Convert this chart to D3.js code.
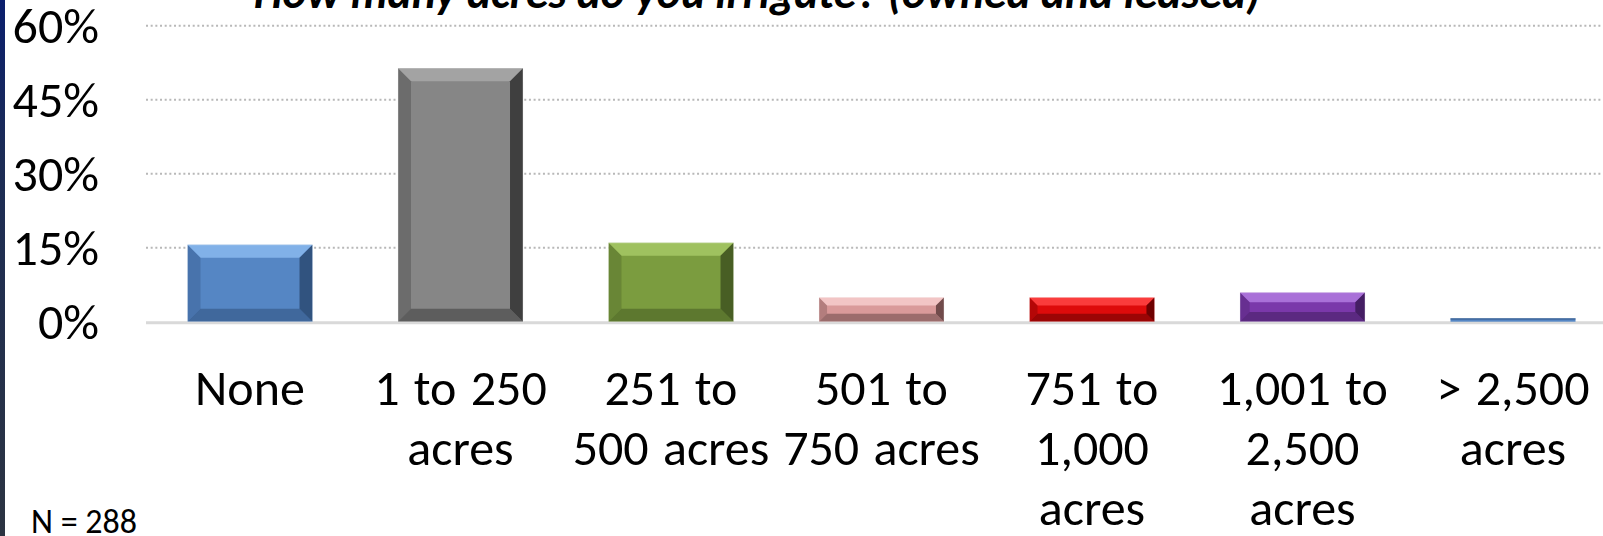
<!DOCTYPE html>
<html>
<head>
<meta charset="utf-8">
<script src="https://cdn.jsdelivr.net/npm/d3@7"></script>
<style>
  body { margin: 0; background: #fff; overflow: hidden; }
  text { font-family: Carlito, Calibri, Lato, sans-serif; }
</style>
</head>
<body>
<div id="chart"></div>
<script>
// chart data
const categories = ["None", "1 to 250\nacres", "251 to\n500 acres", "501 to\n750 acres",
  "751 to\n1,000\nacres", "1,001 to\n2,500\nacres", "> 2,500\nacres"];
const values = [15.6, 51.4, 16.0, 4.9, 4.9, 5.9, 0.7];
const yTicks = [0, 15, 30, 45, 60];
const title = "How many acres do you irrigate? (owned and leased)";
const note = "N = 288";

// face / highlight / shadow for each bar
const barColors = [
  {face: "#5586c4", light: "#8ab8ee", dark: "#2b4a73"},
  {face: "#868686", light: "#a8a8a8", dark: "#333333"},
  {face: "#7b9c3f", light: "#a6c865", dark: "#3f5420"},
  {face: "#d99a9a", light: "#f6cccc", dark: "#5e3d3d"},
  {face: "#dd0b0b", light: "#ff4545", dark: "#5a0000"},
  {face: "#7a38aa", light: "#b27ae0", dark: "#3c1a58"},
  {face: "#5586c4", light: "#8ab8ee", dark: "#2b4a73"}
];

const W = 1603, H = 536;
const svg = d3.select("#chart").append("svg")
  .attr("width", W).attr("height", H);

const defs = svg.append("defs");
const sideGrad = defs.append("linearGradient").attr("id", "side")
  .attr("x1", 0).attr("y1", 0).attr("x2", 0).attr("y2", 1);
sideGrad.append("stop").attr("offset", 0).attr("stop-color", "#0b1f6e");
sideGrad.append("stop").attr("offset", 0.3).attr("stop-color", "#1c2c55");
sideGrad.append("stop").attr("offset", 1).attr("stop-color", "#2c3442");

svg.append("rect").attr("x", 0).attr("y", 0).attr("width", W).attr("height", H).attr("fill", "#fff");
// dark slide edge on the left
svg.append("rect").attr("x", 0).attr("y", 0).attr("width", 5).attr("height", H).attr("fill", "url(#side)");

// scales
let x = d3.scaleBand()
  .domain(categories)
  .range([144.75, 1618.25])
  .paddingInner(0.406)
  .paddingOuter(0.203);

let y = d3.scaleLinear()
  .domain([0, 60])
  .range([321.7, 25.7]);

// dotted gridlines
svg.selectAll("line.grid")
  .data(yTicks.filter(d => d > 0))
  .enter().append("line")
    .attr("class", "grid")
    .attr("x1", 146).attr("x2", W)
    .attr("y1", d => y(d)).attr("y2", d => y(d))
    .attr("stroke", "#b8b8b8")
    .attr("stroke-width", 2)
    .attr("stroke-dasharray", "2,2.67");

// baseline
svg.append("line")
  .attr("x1", 146).attr("x2", W)
  .attr("y1", y(0) + 1).attr("y2", y(0) + 1)
  .attr("stroke", "#d9d9d9")
  .attr("stroke-width", 3);

// y tick labels
svg.selectAll("text.ytick")
  .data(yTicks)
  .enter().append("text")
    .attr("class", "ytick")
    .attr("x", 99)
    .attr("y", d => y(d))
    .attr("dy", "0.35em")
    .attr("text-anchor", "end")
    .style("font-size", "50px")
    .attr("fill", "#000")
    .text(d => d + "%");

// bars with a bevel look
const bars = svg.selectAll("g.bar")
  .data(categories)
  .enter().append("g")
    .attr("class", "bar");

bars.each(function(c, i) {
  const g = d3.select(this);
  const x0 = x(c), w = x.bandwidth();
  const y0 = y(values[i]), y1 = y(0);
  const h = y1 - y0;
  const col = barColors[i];
  g.append("rect")
    .attr("x", x0).attr("y", y0).attr("width", w).attr("height", h)
    .attr("fill", col.face);
  if (h < 6) {
    g.append("rect").attr("x", x0).attr("y", y0).attr("width", w).attr("height", 1.5)
      .attr("fill", col.dark).attr("opacity", 0.5);
    return;
  }
  const b = Math.min(13, h / 3);
  const x1 = x0 + w;
  const poly = (pts, fill, op) => g.append("polygon")
    .attr("points", pts.map(p => p.join(",")).join(" "))
    .attr("fill", fill).attr("opacity", op);
  // top
  poly([[x0, y0], [x1, y0], [x1 - b, y0 + b], [x0 + b, y0 + b]], col.light, 0.85);
  // bottom
  poly([[x0, y1], [x1, y1], [x1 - b, y1 - b], [x0 + b, y1 - b]], col.dark, 0.5);
  // left
  poly([[x0, y0], [x0 + b, y0 + b], [x0 + b, y1 - b], [x0, y1]], col.dark, 0.3);
  // right
  poly([[x1, y0], [x1 - b, y0 + b], [x1 - b, y1 - b], [x1, y1]], col.dark, 0.85);
  // light edge
  g.append("rect")
    .attr("x", x0).attr("y", y0).attr("width", w).attr("height", h)
    .attr("fill", "none").attr("stroke", "#ffffff").attr("stroke-opacity", 0.35)
    .attr("stroke-width", 1);
});

// x labels
const xl = svg.selectAll("text.xlab")
  .data(categories)
  .enter().append("text")
    .attr("class", "xlab")
    .attr("text-anchor", "middle")
    .style("font-size", "50px")
    .style("word-spacing", "3px")
    .attr("fill", "#000");

xl.selectAll("tspan")
  .data(c => c.split("\n").map(t => ({t: t, c: c})))
  .enter().append("tspan")
    .attr("x", d => x(d.c) + x.bandwidth() / 2)
    .attr("y", (d, j) => 405 + j * 60)
    .text(d => d.t);

// title, cut by the top edge
const t = svg.append("text")
  .attr("x", 757)
  .attr("y", 8)
  .attr("text-anchor", "middle")
  .style("font-size", "44px")
  .style("font-weight", "bold")
  .style("font-style", "italic")
  .attr("fill", "#000")
  .text(title);
const tw = t.node().getComputedTextLength();
t.style("font-size", (44 * 1007 / tw) + "px");

// sample size
svg.append("text")
  .attr("x", 31)
  .attr("y", 533)
  .style("font-size", "34px")
  .attr("fill", "#000")
  .text(note);
</script>
</body>
</html>
